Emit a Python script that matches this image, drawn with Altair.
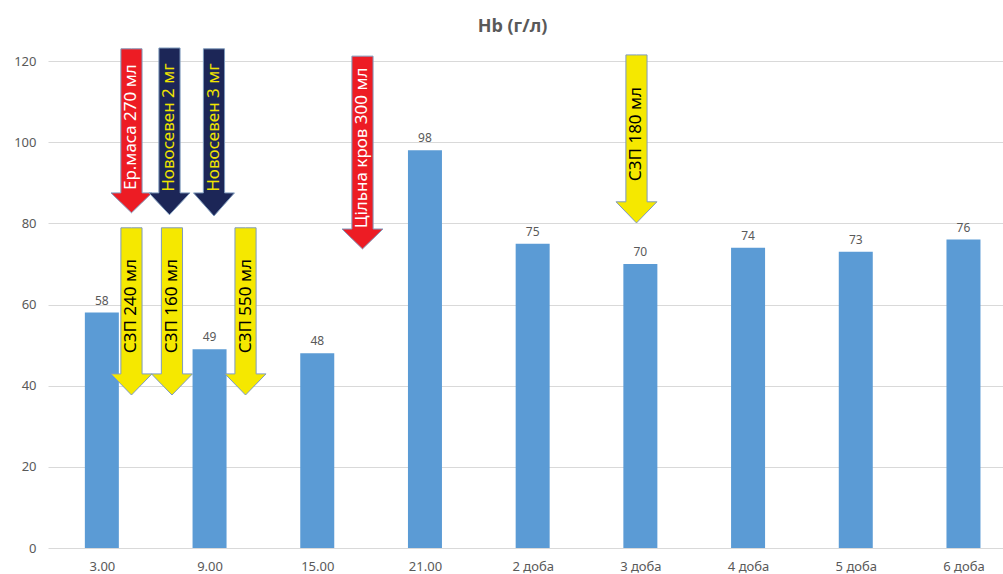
import json
import altair as alt
import pandas as pd

# ---- data ----
categories = ["3.00", "9.00", "15.00", "21.00", "2 доба", "3 доба", "4 доба", "5 доба", "6 доба"]
hb_values = [58, 49, 48, 98, 75, 70, 74, 73, 76]

arrow_labels = ["Ер.маса 270 мл", "Новосевен 2 мг", "Новосевен 3 мг", "Цільна кров 300 мл",
                "СЗП 180 мл", "СЗП 240 мл", "СЗП 160 мл", "СЗП 550 мл"]
# position in category units (bar i is centred on i + 0.5)
arrow_pos = [0.775, 1.128, 1.541, 2.920, 5.464, 0.775, 1.151, 1.834]
arrow_top = [123.0, 123.2, 123.0, 121.2, 121.5, 78.9, 78.9, 78.9]
arrow_head = [87.5, 87.5, 87.5, 78.6, 85.3, 42.9, 42.9, 42.9]
arrow_tip = [82.6, 82.1, 81.8, 73.7, 80.1, 37.7, 37.7, 37.7]
arrow_text_mid = [103.7, 103.6, 103.6, 98.6, 102.0, 59.6, 59.6, 59.6]
arrow_fill = ["#ed1c24", "#1c2657", "#1c2657", "#ed1c24", "#f5e800", "#f5e800", "#f5e800", "#f5e800"]
arrow_text_color = ["#ffffff", "#f0e400", "#f0e400", "#ffffff", "#000000", "#000000", "#000000", "#000000"]

SHAFT_HALF = 0.098
HEAD_HALF = 0.19
EPS = 0.0005
GREY = "#595959"
FONT = "Noto Sans"

bars = pd.DataFrame({
    "pos": [i + 0.5 for i in range(len(categories))],
    "cat": categories,
    "hb": hb_values,
})

# arrow outlines as vertical areas (points strictly increasing in x)
rows = []
for k, lab in enumerate(arrow_labels):
    xc, top, hs, tip = arrow_pos[k], arrow_top[k], arrow_head[k], arrow_tip[k]
    xlh, xls, xrs, xrh = xc - HEAD_HALF, xc - SHAFT_HALF, xc + SHAFT_HALF, xc + HEAD_HALF
    low_s = tip + (hs - tip) * (SHAFT_HALF / HEAD_HALF)
    pts = [(xlh, hs, hs), (xls - EPS, hs, low_s), (xls, top, low_s), (xc, top, tip),
           (xrs, top, low_s), (xrs + EPS, hs, low_s), (xrh, hs, hs)]
    for (x, y, y2) in pts:
        rows.append({"aid": k, "ax": x, "ay": y, "ay2": y2, "afill": arrow_fill[k]})
arrows = pd.DataFrame(rows)

texts = pd.DataFrame({
    "label": arrow_labels,
    "tx": arrow_pos,
    "ty": arrow_text_mid,
    "tcolor": arrow_text_color,
})

label_expr = json.dumps(categories) + "[floor(datum.value)]"

x_scale = alt.Scale(domain=[0, 8.867], nice=False, zero=False, padding=0)
y_scale = alt.Scale(domain=[0, 120], nice=False, padding=0)

base = alt.Chart(bars)

bar_layer = base.mark_bar(size=34, color="#5b9bd5").encode(
    x=alt.X("pos:Q", scale=x_scale, title=None,
            axis=alt.Axis(values=[i + 0.5 for i in range(len(categories))], labelExpr=label_expr,
                          grid=False, ticks=False, domain=False, labelColor=GREY,
                          labelFontSize=13, labelFont=FONT, labelPadding=12)),
    y=alt.Y("hb:Q", scale=y_scale, title=None,
            axis=alt.Axis(values=list(range(0, 121, 20)), grid=True, gridColor="#d9d9d9",
                          ticks=False, domain=False, labelColor=GREY, labelFontSize=13,
                          labelFont=FONT, labelPadding=12)),
)

bar_labels = base.mark_text(baseline="bottom", dy=-5, fontSize=12, font=FONT, color=GREY).encode(
    x=alt.X("pos:Q", scale=x_scale),
    y=alt.Y("hb:Q", scale=y_scale),
    text="hb:Q",
)

arrow_layer = alt.Chart(arrows).mark_area(stroke="#7f9bbd", strokeWidth=1, interpolate="linear",
                                          orient="vertical", opacity=1).encode(
    x=alt.X("ax:Q", scale=x_scale),
    y=alt.Y("ay:Q", scale=y_scale, stack=None),
    y2="ay2:Q",
    detail="aid:N",
    fill=alt.Fill("afill:N", scale=None),
)

arrow_text = alt.Chart(texts).mark_text(angle=270, align="center", baseline="middle",
                                        fontSize=17, font=FONT).encode(
    x=alt.X("tx:Q", scale=x_scale),
    y=alt.Y("ty:Q", scale=y_scale),
    text="label:N",
    color=alt.Color("tcolor:N", scale=None),
)

chart = alt.layer(bar_layer, bar_labels, arrow_layer, arrow_text).properties(
    width=955,
    height=487,
    autosize=alt.AutoSizeParams(type="none"),
    padding={"left": 48, "top": 61, "right": 0, "bottom": 26},
    title=alt.TitleParams("Hb (г/л)", anchor="middle", dx=-13, offset=10, fontSize=18,
                          fontWeight="bold", color=GREY, font="Open Sans"),
).configure_view(stroke=None)

chart.save("out.html", embed_options={"renderer": "svg", "actions": False})
